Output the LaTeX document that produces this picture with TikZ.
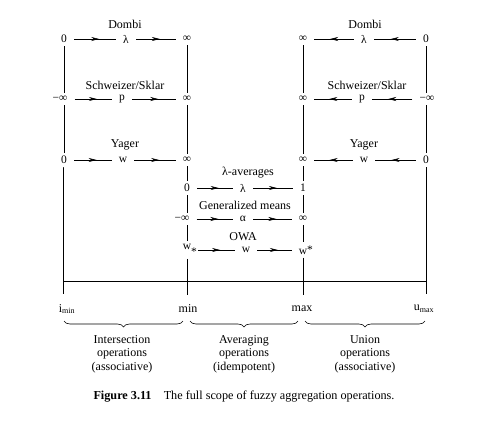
\documentclass[tikz,border=0pt]{standalone}
\usepackage{fontspec}
\setmainfont{Liberation Serif}
\usetikzlibrary{arrows.meta, decorations.markings, decorations.pathreplacing}

\begin{document}
\begin{tikzpicture}[x=1pt, y=-1pt, line width=0.6pt,
    val/.style={inner xsep=7pt, inner ysep=3pt, font=\fontsize{11.5}{13}\selectfont},
    ttl/.style={inner sep=1pt, font=\fontsize{12}{14}\selectfont},
    flow/.style={postaction={decorate}, decoration={markings,
        mark=at position 0.6 with {\arrow{Stealth[length=8pt, width=4pt]}}}},
    ops/.style={align=center, font=\fontsize{12}{13.5}\selectfont}]
        \useasboundingbox (0,0) rectangle (481,423);
        % Intersection side (left block)
        \node [ttl] (tdl) at (125,24) {Dombi};
        \node [val] (dl0) at (64,39) {0};
        \node [val] (dll) at (126,39) {λ};
        \node [val] (dli) at (187,39) {∞};
        \node [ttl] (tsl) at (125,85) {Schweizer/Sklar};
        \node [val] (sl0) at (60,99) {−∞};
        \node [val] (slp) at (122,99) {p};
        \node [val] (sli) at (187,99) {∞};
        \node [ttl] (tyl) at (125,145) {Yager};
        \node [val] (yl0) at (64,160) {0};
        \node [val] (ylw) at (123,160) {w};
        \node [val] (yli) at (187,160) {∞};
        \draw [flow] (dl0) -- (dll);
        \draw [flow] (dll) -- (dli);
        \draw [flow] (sl0) -- (slp);
        \draw [flow] (slp) -- (sli);
        \draw [flow] (yl0) -- (ylw);
        \draw [flow] (ylw) -- (yli);
        % Union side (right block)
        \node [ttl] (tdr) at (365,24) {Dombi};
        \node [val] (dr0) at (426,39) {0};
        \node [val] (drl) at (364,39) {λ};
        \node [val] (dri) at (303,39) {∞};
        \node [ttl] (tsr) at (367,85) {Schweizer/Sklar};
        \node [val] (sr0) at (427,99) {−∞};
        \node [val] (srp) at (362,99) {p};
        \node [val] (sri) at (303,99) {∞};
        \node [ttl] (tyr) at (364,145) {Yager};
        \node [val] (yr0) at (426,160) {0};
        \node [val] (yrw) at (364,160) {w};
        \node [val] (yri) at (303,160) {∞};
        \draw [flow] (dr0) -- (drl);
        \draw [flow] (drl) -- (dri);
        \draw [flow] (sr0) -- (srp);
        \draw [flow] (srp) -- (sri);
        \draw [flow] (yr0) -- (yrw);
        \draw [flow] (yrw) -- (yri);
        % Averaging operations (middle)
        \node [ttl] (tam) at (248,173) {λ-averages};
        \node [val] (am0) at (187,188) {0};
        \node [val] (aml) at (243,188) {λ};
        \node [val] (am1) at (303,188) {1};
        \node [ttl] (tgm) at (245,205) {Generalized means};
        \node [val] (gm0) at (182,219) {−∞};
        \node [val] (gma) at (243,219) {α};
        \node [val] (gmi) at (303,219) {∞};
        \node [ttl] (tow) at (243,237) {OWA};
        \node [val] (ow0) at (187,250) {w\rlap{\raisebox{-6pt}{*}}};
        \node [val] (oww) at (246,250) {w};
        \node [val] (ow1) at (303,250) {w\rlap{\raisebox{1pt}{*}}};
        \draw [flow] (am0) -- (aml);
        \draw [flow] (aml) -- (am1);
        \draw [flow] (gm0) -- (gma);
        \draw [flow] (gma) -- (gmi);
        \draw [flow] (ow0) -- (oww);
        \draw [flow] (oww) -- (ow1);
        % Vertical lines
        \coordinate (b1) at (63,294);
        \coordinate (b2) at (187,295);
        \coordinate (b3) at (303,295);
        \coordinate (b4) at (426,294);
        \draw (dl0) -- (dl0 |- sl0.north) (dl0 |- sl0.south) -- (yl0) (yl0) -- (b1 |- yl0.south) -- (b1);
        \draw (dli) -- (sli) -- (yli) -- (am0) (am0) -- (am0 |- gm0.north) (am0 |- gm0.south) -- (ow0) (ow0) -- (b2);
        \draw (dri) -- (sri) -- (yri) -- (am1) -- (gmi) -- (ow1) (ow1) -- (b3);
        \draw (dr0) -- (dr0 |- sr0.north) (dr0 |- sr0.south) -- (yr0) (yr0) -- (b4 |- yr0.south) -- (b4);
        % Scale line
        \coordinate (al) at (63,281);
        \coordinate (ar) at (426,281);
        \draw (al) -- (ar);
        \node [ops] (imin) at (67,309) {i\textsubscript{min}};
        \node [ops] (mn) at (188,309) {min};
        \node [ops] (mx) at (302,309) {max};
        \node [ops] (umax) at (424,309) {u\textsubscript{max}};
        % Braces
        \coordinate (c1) at (64,321);
        \coordinate (c2) at (183,321);
        \coordinate (c3) at (190,321);
        \coordinate (c4) at (298,321);
        \coordinate (c5) at (305,321);
        \coordinate (c6) at (425,321);
        \draw [decorate, decoration={brace, mirror, amplitude=6pt}] (c1) -- (c2);
        \draw [decorate, decoration={brace, mirror, amplitude=6pt}] (c3) -- (c4);
        \draw [decorate, decoration={brace, mirror, amplitude=6pt}] (c5) -- (c6);
        \node [ops] (iop) at (122,354) {Intersection\\operations\\(associative)};
        \node [ops] (aop) at (244,354) {Averaging\\operations\\(idempotent)};
        \node [ops] (uop) at (365,354) {Union\\operations\\(associative)};
        % Caption
        \node [font=\fontsize{12.2}{14}\selectfont] (cap) at (244,397) {\textbf{Figure 3.11}\quad The full scope of fuzzy aggregation operations.};
    \end{tikzpicture}
\end{document}
